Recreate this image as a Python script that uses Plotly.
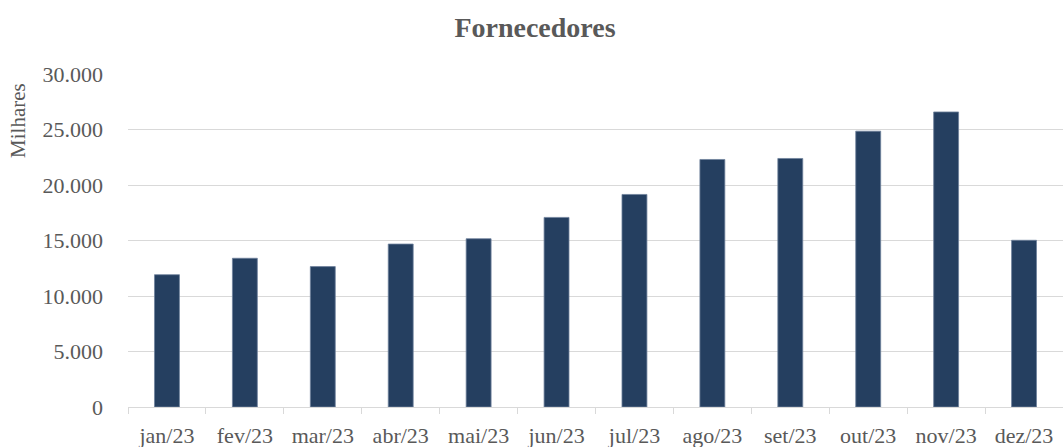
import plotly.graph_objects as go

categories = ["jan/23", "fev/23", "mar/23", "abr/23", "mai/23", "jun/23",
              "jul/23", "ago/23", "set/23", "out/23", "nov/23", "dez/23"]
values = [11920, 13400, 12650, 14680, 15160, 17080,
          19150, 22300, 22390, 24850, 26580, 15020]
y_ticks = [0, 5000, 10000, 15000, 20000, 25000, 30000]

FONT = "Liberation Serif"
GRAY = "#595959"

fig = go.Figure(go.Bar(
    x=categories, y=values,
    marker=dict(color="#253F60", line=dict(color="#6f829c", width=0.8)),
    width=0.32,
))

fig.update_layout(
    width=1063, height=447,
    margin=dict(l=128, r=0, t=74, b=40),
    paper_bgcolor="white", plot_bgcolor="white",
    separators=",.",
    showlegend=False,
    font=dict(family=FONT, color=GRAY, size=22),
    title=dict(text="<b>Fornecedores</b>", x=535/1063, xref="container", xanchor="center",
               y=1 - 27/447, yref="container", yanchor="middle",
               font=dict(family=FONT, size=28, color=GRAY)),
    xaxis=dict(
        type="category", showgrid=False, showline=True, linecolor="#d9d9d9", linewidth=1.3,
        ticks="outside", tickson="boundaries", ticklen=6, tickcolor="#d9d9d9",
        ticklabelstandoff=8,
        tickfont=dict(family=FONT, size=22, color=GRAY),
        range=[-0.5, 11.5],
    ),
    yaxis=dict(
        range=[0, 30000], tickvals=y_ticks, tickformat=",.0f",
        showgrid=True, gridcolor="#d9d9d9", gridwidth=1.3, zeroline=False,
        showline=False, ticks="", ticklabelstandoff=24,
        tickfont=dict(family=FONT, size=22, color=GRAY),
    ),
    annotations=[dict(
        text="Milhares", textangle=-90, xref="paper", yref="paper",
        x=0, xshift=-110, y=(407.5 - 121) / (407.5 - 74),
        xanchor="center", yanchor="middle", showarrow=False,
        font=dict(family=FONT, size=21, color=GRAY),
    )],
)

fig.write_html("out.html", config={"displayModeBar": False},
               post_script="document.body.style.margin='0';")
